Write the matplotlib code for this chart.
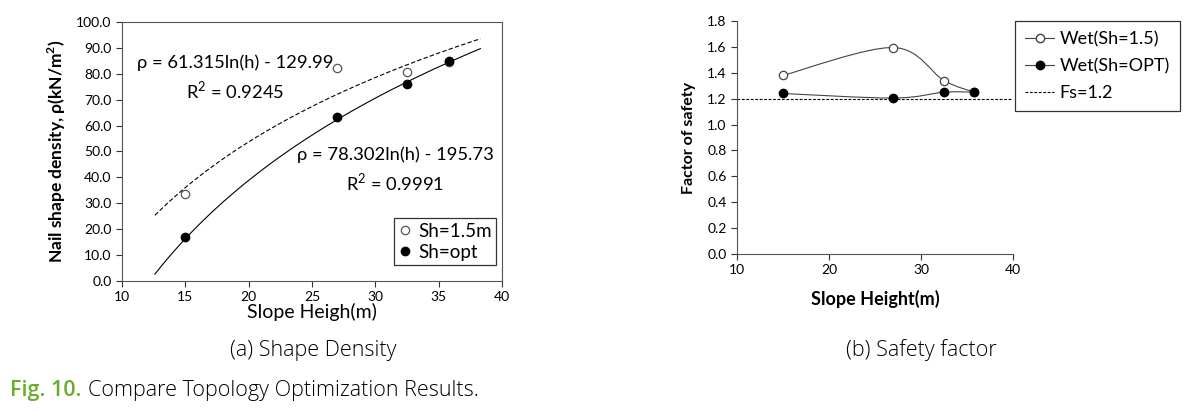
import numpy as np
import matplotlib.pyplot as plt
from matplotlib.path import Path
from matplotlib.patches import PathPatch
from matplotlib.lines import Line2D

plt.rcParams['font.family'] = ['Lato', 'DejaVu Sans']

# (a) shape density data
height = [15.0, 27.0, 32.5, 35.8]
dens_sh15 = [33.7, 82.2, 80.6, 84.6]
dens_opt = [17.0, 63.5, 76.0, 85.0]
# log trendline coefficients as printed on the chart
fit_sh15 = (61.315, -129.99)
fit_opt = (78.302, -195.73)
fit_range = (12.6, 38.3)

# (b) safety factor data
fs_sh15 = [1.38, 1.595, 1.34, 1.25]
fs_opt = [1.24, 1.205, 1.25, 1.25]
fs_limit = 1.2


def smooth_path(xs, ys):
    # Excel-like smoothed line as cubic bezier segments
    pts = np.column_stack([xs, ys])
    ext = np.vstack([pts[0], pts, pts[-1]])
    verts = [pts[0]]
    codes = [Path.MOVETO]
    for i in range(len(pts) - 1):
        p0, p1, p2, p3 = ext[i], ext[i + 1], ext[i + 2], ext[i + 3]
        verts += [p1 + (p2 - p0) / 6, p2 - (p3 - p1) / 6, p2]
        codes += [Path.CURVE4] * 3
    return Path(verts, codes)


fig = plt.figure(figsize=(11.9, 4.12), dpi=100)

# ---------- (a) ----------
ax1 = fig.add_axes([0.1025, 0.318, 0.3193, 0.6286])
h = np.linspace(fit_range[0], fit_range[1], 200)
ax1.plot(h, fit_sh15[0] * np.log(h) + fit_sh15[1], color='black', lw=0.8, ls=(0, (4, 2)))
ax1.plot(h, fit_opt[0] * np.log(h) + fit_opt[1], color='black', lw=0.8)
ax1.plot(height, dens_sh15, 'o', mfc='white', mec='#555555', ms=6, mew=0.9, label='Sh=1.5m')
ax1.plot(height, dens_opt, 'o', mfc='black', mec='black', ms=6, label='Sh=opt')
ax1.set_xlim(10, 40)
ax1.set_ylim(0, 100)
ax1.set_xticks(range(10, 41, 5))
ax1.set_yticks(range(0, 101, 10))
ax1.set_yticklabels([f'{v:.1f}' for v in range(0, 101, 10)])
ax1.tick_params(labelsize=10, direction='out', length=4, width=0.8, color='#333333')
for s in ax1.spines.values():
    s.set_color('#555555')
    s.set_linewidth(0.8)
ax1.set_xlabel('Slope Heigh(m)', fontsize=14, labelpad=0)
ax1.set_ylabel('Nail shape density, ρ(kN/m$^\\mathregular{2}$)', fontsize=12.5,
               fontweight='bold', labelpad=6)
eq = dict(fontsize=13.2, transform=ax1.transAxes, va='center', ha='left')
ax1.text(0.04, 0.843, 'ρ = 61.315ln(h) - 129.99', **eq)
ax1.text(0.168, 0.735, 'R$^\\mathregular{2}$ = 0.9245', **eq)
ax1.text(0.46, 0.486, 'ρ = 78.302ln(h) - 195.73', **eq)
ax1.text(0.59, 0.382, 'R$^\\mathregular{2}$ = 0.9991', **eq)
leg1 = ax1.legend(loc='lower right', bbox_to_anchor=(0.985, 0.06), fontsize=13.5,
                  frameon=True, fancybox=False, edgecolor='black', handlelength=0.6,
                  handletextpad=0.4, borderpad=0.25, labelspacing=0.2, borderaxespad=0)
leg1.get_frame().set_linewidth(0.9)

# ---------- (b) ----------
ax2 = fig.add_axes([0.6193, 0.3835, 0.232, 0.5655])
ax2.add_patch(PathPatch(smooth_path(height, fs_sh15), fc='none', ec='#444444', lw=0.8))
ax2.add_patch(PathPatch(smooth_path(height, fs_opt), fc='none', ec='#444444', lw=0.8))
ax2.plot(height, fs_sh15, 'o', mfc='white', mec='#444444', ms=6, mew=0.9)
ax2.plot(height, fs_opt, 'o', mfc='black', mec='black', ms=6)
ax2.axhline(fs_limit, color='black', lw=0.8, ls=(0, (2.5, 1.5)))
ax2.set_xlim(10, 40)
ax2.set_ylim(0, 1.8)
ax2.set_xticks(range(10, 41, 10))
ax2.set_yticks(np.arange(0, 1.81, 0.2))
ax2.set_yticklabels([f'{v:.1f}' for v in np.arange(0, 1.81, 0.2)])
ax2.tick_params(labelsize=10, direction='out', length=4, width=0.8, color='#333333')
for side in ['top', 'right']:
    ax2.spines[side].set_visible(False)
for side in ['left', 'bottom']:
    ax2.spines[side].set_color('#555555')
    ax2.spines[side].set_linewidth(0.8)
ax2.set_xlabel('Slope Height(m)', fontsize=13, fontweight='bold', labelpad=10)
ax2.set_ylabel('Factor of safety', fontsize=11.5, fontweight='bold', labelpad=8)

handles = [
    Line2D([], [], color='#444444', lw=0.8, marker='o', mfc='white', mec='#444444', ms=6),
    Line2D([], [], color='#444444', lw=0.8, marker='o', mfc='black', mec='black', ms=6),
    Line2D([], [], color='black', lw=0.8, ls=(0, (2.5, 1.5))),
]
leg2 = ax2.legend(handles, ['Wet(Sh=1.5)', 'Wet(Sh=OPT)', 'Fs=1.2'], loc='upper left',
                  bbox_to_anchor=(1.008, 1.0), fontsize=13, frameon=True, fancybox=False,
                  edgecolor='black', handlelength=1.6, handletextpad=0.3, borderpad=0.55,
                  labelspacing=0.6, borderaxespad=0)
leg2.get_frame().set_linewidth(0.9)

# ---------- captions ----------
cap = dict(family=['Open Sans', 'DejaVu Sans'], fontweight='light', fontsize=15.5)
fig.text(0.263, 0.150, '(a) Shape Density', ha='center', va='center', **cap)
fig.text(0.774, 0.150, '(b) Safety factor', ha='center', va='center', **cap)
fig.text(0.008, 0.053, 'Fig. 10.', ha='left', va='center', color='#6aab2b',
         family=['Open Sans', 'DejaVu Sans'], fontweight='semibold', fontsize=15.5)
fig.text(0.074, 0.053, 'Compare Topology Optimization Results.', ha='left', va='center',
         **cap)

fig.savefig('out.png', dpi=100)
